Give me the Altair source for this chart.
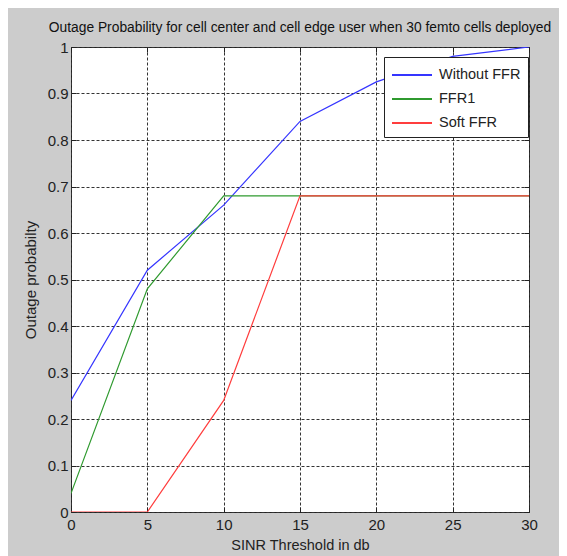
import altair as alt
import pandas as pd

x_vals = [0, 5, 10, 15, 20, 25, 30]
without_ffr = [0.24, 0.52, 0.66, 0.84, 0.925, 0.98, 1.0]
ffr1 = [0.04, 0.48, 0.68, 0.68, 0.68, 0.68, 0.68]
soft_ffr = [0.0, 0.0, 0.24, 0.68, 0.68, 0.68, 0.68]
series_names = ["Without FFR", "FFR1", "Soft FFR"]
series_colors = ["#3535ff", "#2f9a2f", "#ff3d3d"]
x_ticks = [0, 5, 10, 15, 20, 25, 30]
y_ticks = [0, 0.1, 0.2, 0.3, 0.4, 0.5, 0.6, 0.7, 0.8, 0.9, 1]

rows = []
for name, vals in zip(series_names, [without_ffr, ffr1, soft_ffr]):
    for xv, yv in zip(x_vals, vals):
        rows.append({"x": xv, "y": yv, "series": name})
df = pd.DataFrame(rows)

FONT = "Liberation Sans"
xscale = alt.Scale(domain=[0, 30], nice=False, zero=False)
yscale = alt.Scale(domain=[0, 1], nice=False)

lines = alt.Chart(df).mark_line(strokeWidth=1.2, clip=True).encode(
    x=alt.X("x:Q", scale=xscale,
            axis=alt.Axis(values=x_ticks, title="SINR Threshold in db", grid=True,
                          gridDash=[3, 2], gridColor="#333333", gridOpacity=1,
                          domain=False, tickSize=5, offset=-5, tickColor="#222222",
                          labelPadding=5, labelFontSize=15, labelFont=FONT, labelColor="#222222",
                          labelFlush=False,
                          titleFont=FONT, titleFontSize=14.5, titleFontWeight="normal",
                          titleColor="#222222", titlePadding=6, format="d")),
    y=alt.Y("y:Q", scale=yscale,
            axis=alt.Axis(values=y_ticks, title="Outage probabilty", grid=True,
                          gridDash=[3, 2], gridColor="#333333", gridOpacity=1,
                          domain=False, tickSize=5, offset=-5, tickColor="#222222",
                          labelPadding=3, labelFontSize=15, labelFont=FONT, labelColor="#222222",
                          labelFlush=False,
                          labelExpr="datum.value == 0 ? '0' : datum.value == 1 ? '1' : format(datum.value, '.1f')",
                          titleFont=FONT, titleFontSize=15, titleFontWeight="normal",
                          titleColor="#222222", titlePadding=9)),
    color=alt.Color("series:N", sort=series_names,
                    scale=alt.Scale(domain=series_names, range=series_colors),
                    legend=alt.Legend(orient="none", legendX=313, legendY=10, title=None,
                                      fillColor="white", strokeColor="#222222", padding=7,
                                      symbolType="M-1,0H3", symbolSize=400, symbolStrokeWidth=2,
                                      labelFont=FONT, labelFontSize=14.5, labelColor="#222222",
                                      rowPadding=6, labelOffset=26)),
    detail="series:N",
)

ticks_layer = alt.Chart(df).mark_point(opacity=0).encode(
    x=alt.X("x:Q", scale=xscale,
            axis=alt.Axis(orient="top", values=x_ticks, labels=False, grid=False, domain=False,
                          tickSize=5, offset=-5, tickColor="#222222", title=None)),
    y=alt.Y("y:Q", scale=yscale,
            axis=alt.Axis(orient="right", values=y_ticks, labels=False, grid=False, domain=False,
                          tickSize=5, offset=-5, tickColor="#222222", title=None)),
)

chart = alt.layer(lines, ticks_layer).resolve_axis(x="independent", y="independent").properties(
    width=458, height=465,
    autosize=alt.AutoSizeParams(type="none"),
    padding={"left": 63, "top": 39, "right": 30, "bottom": 44},
    background="#cccccc",
    title=alt.TitleParams("Outage Probability for cell center and cell edge user when 30 femto cells deployed",
                          font=FONT, fontSize=13.8, fontWeight="normal", color="#111111", offset=5),
).configure_view(fill="white", stroke="#222222", strokeWidth=1)

chart.save("out.html", embed_options={"renderer": "svg", "actions": False})
